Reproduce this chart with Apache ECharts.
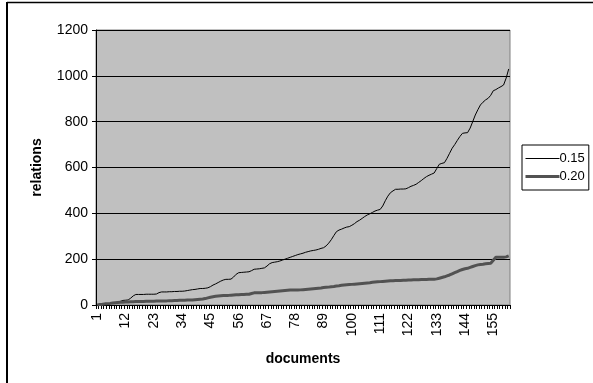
<!DOCTYPE html>
<html>
<head>
<meta charset="utf-8">
<script src="https://cdn.jsdelivr.net/npm/echarts@6/dist/echarts.min.js"></script>
<style>
  html, body { margin: 0; padding: 0; background: #fff; }
  #chart { width: 593px; height: 383px; }
</style>
</head>
<body>
<div id="chart"></div>
<script>
// Documents numbered 1..161 along the x axis
const documents = [];
for (let i = 1; i <= 161; i++) documents.push(String(i));

// Cumulative relations found at threshold 0.15
const rel015 = [
  0, 1, 3, 4, 5, 7, 8, 10, 13, 16,
  20, 21, 22, 30, 40, 46, 46, 46, 46, 47,
  47, 47, 47, 48, 54, 57, 57, 57, 58, 58,
  59, 59, 60, 60, 61, 63, 65, 67, 68, 70,
  72, 72, 73, 75, 80, 87, 92, 98, 104, 109,
  112, 112, 113, 122, 134, 141, 142, 143, 144, 145,
  150, 156, 157, 158, 160, 162, 170, 180, 185, 187,
  189, 192, 196, 200, 204, 208, 212, 216, 220, 223,
  226, 230, 233, 236, 238, 240, 243, 247, 250, 258,
  270, 285, 303, 320, 327, 331, 336, 340, 342, 348,
  355, 364, 370, 378, 386, 393, 398, 404, 410, 414,
  417, 432, 455, 475, 490, 498, 505, 505, 506, 506,
  507, 512, 518, 522, 527, 535, 543, 552, 560, 566,
  571, 576, 595, 614, 618, 621, 640, 662, 684, 700,
  718, 735, 749, 751, 752, 772, 800, 829, 852, 873,
  885, 895, 902, 915, 935, 940, 947, 953, 960, 990,
  1030
];

// Cumulative relations found at threshold 0.20
const rel020 = [
  0, 2, 3, 5, 6, 7, 9, 10, 11, 12,
  12, 13, 13, 14, 14, 15, 15, 15, 15, 16,
  16, 16, 16, 17, 17, 17, 18, 18, 19, 19,
  20, 20, 21, 21, 21, 22, 22, 22, 23, 24,
  25, 26, 28, 31, 34, 36, 38, 39, 40, 41,
  42, 42, 43, 44, 45, 45, 46, 46, 47, 47,
  50, 53, 54, 54, 54, 55, 56, 57, 58, 59,
  60, 61, 62, 63, 64, 65, 65, 65, 65, 66,
  67, 68, 69, 70, 71, 72, 73, 74, 76, 77,
  78, 80, 81, 83, 84, 86, 87, 88, 89, 90,
  91, 92, 93, 94, 95, 96, 97, 99, 100, 101,
  102, 103, 104, 105, 106, 106, 107, 107, 107, 108,
  108, 109, 109, 110, 110, 110, 111, 111, 111, 112,
  112, 112, 114, 117, 120, 123, 127, 131, 136, 141,
  146, 151, 155, 158, 160, 164, 168, 172, 175, 177,
  178, 180, 181, 182, 195, 208, 208, 208, 208, 210,
  214
];

const seriesNames = ['0.15', '0.20'];
const yTicks = { min: 0, max: 1200, interval: 200 };

const FONT = '"Liberation Sans", Arial, sans-serif';
const COLOR_015 = '#000000';
const COLOR_020 = '#525252';

const chart = echarts.init(document.getElementById('chart'), null, { renderer: 'canvas' });

chart.setOption({
  animation: false,
  backgroundColor: '#ffffff',
  textStyle: { fontFamily: FONT, color: '#000' },
  grid: {
    left: 96, top: 30, right: 83, bottom: 78,
    show: true,
    backgroundColor: '#c0c0c0',
    borderColor: '#808080',
    borderWidth: 1
  },
  legend: {
    orient: 'vertical',
    left: 522, top: 145,
    padding: [7, 4, 7, 2],
    itemGap: 5,
    itemWidth: 34,
    itemHeight: 12,
    borderColor: '#000',
    borderWidth: 1,
    backgroundColor: '#fff',
    itemStyle: { opacity: 0 },
    textStyle: { fontFamily: FONT, fontSize: 13, color: '#000', padding: [0, 0, 0, -5] },
    data: [
      { name: seriesNames[0], lineStyle: { width: 1, color: COLOR_015 } },
      { name: seriesNames[1], lineStyle: { width: 3, color: COLOR_020 } }
    ]
  },
  xAxis: {
    type: 'category',
    data: documents,
    boundaryGap: true,
    name: 'documents',
    nameLocation: 'middle',
    nameGap: 47,
    nameTextStyle: { fontFamily: FONT, fontSize: 14, fontWeight: 'bold', color: '#000' },
    axisLine: { lineStyle: { color: '#000', width: 1 } },
    axisTick: { show: true, interval: 0, length: 4, inside: false, lineStyle: { color: '#000' } },
    axisLabel: {
      interval: 10,
      rotate: 90,
      margin: 8,
      fontFamily: FONT,
      fontSize: 14,
      color: '#000'
    },
    splitLine: { show: false }
  },
  yAxis: {
    type: 'value',
    min: yTicks.min, max: yTicks.max, interval: yTicks.interval,
    name: 'relations',
    nameLocation: 'middle',
    nameRotate: 90,
    nameGap: 52,
    nameTextStyle: { fontFamily: FONT, fontSize: 14, fontWeight: 'bold', color: '#000' },
    axisLine: { show: true, lineStyle: { color: '#000', width: 1 } },
    axisTick: { show: true, length: 4, lineStyle: { color: '#000' } },
    axisLabel: {
      margin: 8, fontFamily: FONT, fontSize: 14, color: '#000',
      formatter: (v) => String(v)
    },
    splitLine: { show: true, lineStyle: { color: '#000', width: 1 } }
  },
  series: [
    {
      name: seriesNames[0],
      type: 'line',
      data: rel015,
      symbol: 'none',
      lineStyle: { color: COLOR_015, width: 1 },
      itemStyle: { color: COLOR_015 }
    },
    {
      name: seriesNames[1],
      type: 'line',
      data: rel020,
      symbol: 'none',
      lineStyle: { color: COLOR_020, width: 3 },
      itemStyle: { color: COLOR_020 }
    }
  ],
  graphic: [
    // outer frame: left and top edges
    { type: 'line', shape: { x1: 7, y1: 2, x2: 7, y2: 383 }, style: { stroke: '#000', lineWidth: 2 } },
    { type: 'line', shape: { x1: 7, y1: 2.5, x2: 593, y2: 2.5 }, style: { stroke: '#000', lineWidth: 1.5 } }
  ]
});
</script>
</body>
</html>
